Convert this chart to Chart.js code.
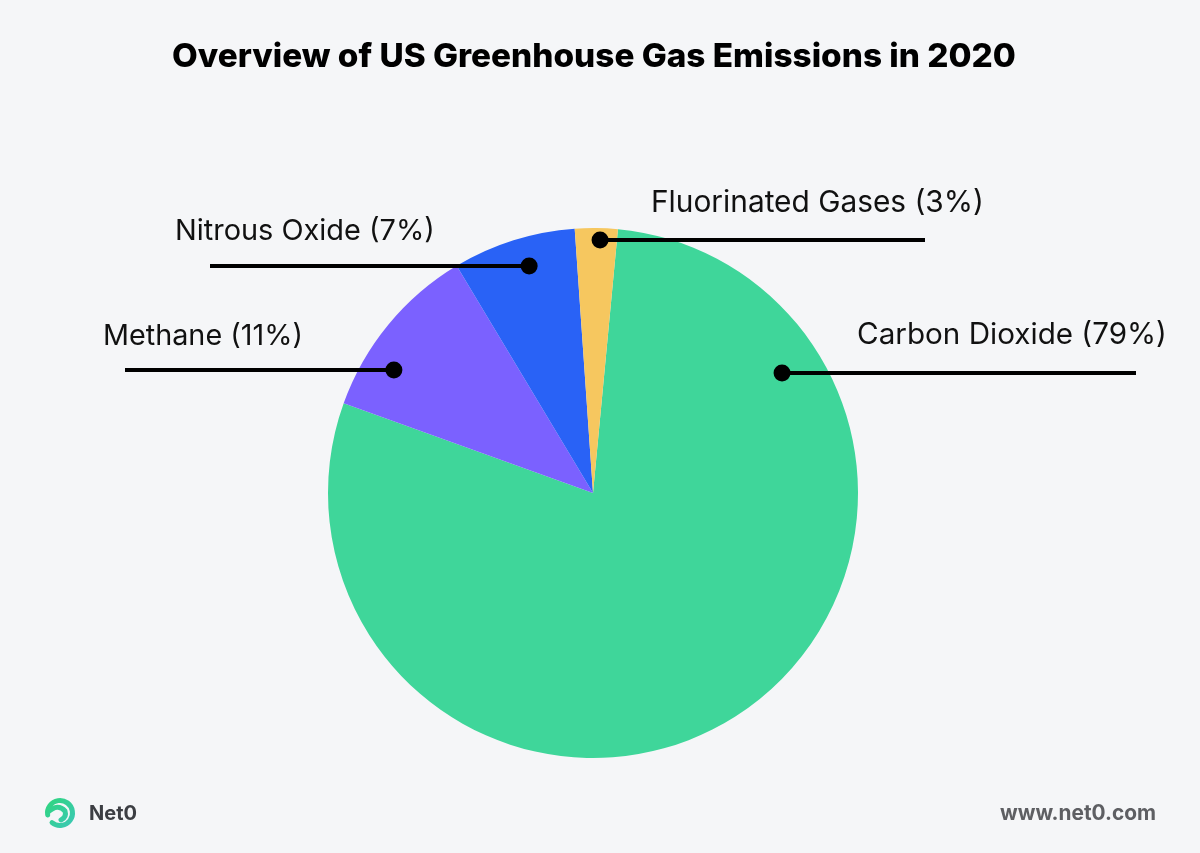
<!DOCTYPE html>
<html>
<head>
<meta charset="utf-8">
<script src="https://cdn.jsdelivr.net/npm/chart.js@4.4.1/dist/chart.umd.min.js"></script>
<style>
  html, body { margin: 0; padding: 0; background: #F5F6F8; }
  #wrap { width: 1200px; height: 853px; position: relative; }
</style>
</head>
<body>
<div id="wrap"><canvas id="c" width="1200" height="853"></canvas></div>
<script>
// ---- data ----
const categories = ["Carbon Dioxide", "Methane", "Nitrous Oxide", "Fluorinated Gases"];
const sliceValues = [79, 10.9, 7.5, 2.6];
// percentages printed in the labels
const labelPercents = [79, 11, 7, 3];
const sliceColors = ["#3FD69A", "#7B61FF", "#2962F6", "#F6C75F"];
const chartTitle = "Overview of US Greenhouse Gas Emissions in 2020";
const brandName = "Net0";
const siteUrl = "www.net0.com";

// leader-line styling per slice (position along arc, radial fraction, line end, label placement)
const leaderStyle = [
  { t: 0.1835, rf: 0.845, lineEndX: 1136, labelX: 857, labelBaseline: 344, labelWidth: 310 },
  { t: 0.303,  rf: 0.883, lineEndX: 125,  labelX: 103, labelBaseline: 345, labelWidth: 200 },
  { t: 0.565,  rf: 0.89,  lineEndX: 210,  labelX: 175, labelBaseline: 240, labelWidth: 260 },
  { t: 0.594,  rf: 0.955, lineEndX: 925,  labelX: 651, labelBaseline: 212, labelWidth: 333 }
];

const FONT = '"Inter", "Open Sans", sans-serif';

function fitFont(ctx, text, weight, baseSize, targetW) {
  ctx.font = weight + ' ' + baseSize + 'px ' + FONT;
  const w = ctx.measureText(text).width;
  const size = baseSize * targetW / w;
  return weight + ' ' + size.toFixed(2) + 'px ' + FONT;
}

const overlay = {
  id: 'overlay',
  afterDraw(chart) {
    const ctx = chart.ctx;
    const meta = chart.getDatasetMeta(0);
    ctx.save();

    // Title
    ctx.fillStyle = '#000000';
    ctx.textAlign = 'left';
    ctx.textBaseline = 'alphabetic';
    ctx.font = fitFont(ctx, chartTitle, '800', 32, 844);
    ctx.fillText(chartTitle, 172, 67);

    // Leaders and labels
    meta.data.forEach((arc, i) => {
      const st = leaderStyle[i];
      const p = arc.getProps(['x', 'y', 'startAngle', 'endAngle', 'outerRadius'], true);
      const a = p.startAngle + st.t * (p.endAngle - p.startAngle);
      const r = st.rf * p.outerRadius;
      const dx = p.x + Math.cos(a) * r;
      const dy = p.y + Math.sin(a) * r;

      ctx.strokeStyle = '#000000';
      ctx.lineWidth = 4;
      ctx.lineCap = 'butt';
      ctx.beginPath();
      ctx.moveTo(dx, dy);
      ctx.lineTo(st.lineEndX, dy);
      ctx.stroke();

      ctx.fillStyle = '#000000';
      ctx.beginPath();
      ctx.arc(dx, dy, 8.5, 0, Math.PI * 2);
      ctx.fill();

      const text = categories[i] + ' (' + labelPercents[i] + '%)';
      ctx.font = fitFont(ctx, text, '400', 26, st.labelWidth);
      ctx.fillStyle = '#111111';
      ctx.textAlign = 'left';
      ctx.fillText(text, st.labelX, st.labelBaseline);
    });

    // Footer logo
    const lx = 60, ly = 813;
    const grad = ctx.createLinearGradient(lx - 15, ly - 15, lx + 15, ly + 15);
    grad.addColorStop(0, '#2FD67C');
    grad.addColorStop(1, '#3CC7B8');
    ctx.strokeStyle = grad;
    ctx.lineWidth = 5;
    ctx.lineCap = 'round';
    ctx.beginPath();
    ctx.arc(lx, ly, 12.5, Math.PI * 0.95, Math.PI * 0.72 + Math.PI * 2, false);
    ctx.stroke();
    ctx.beginPath();
    ctx.moveTo(lx - 12, ly - 1);
    ctx.quadraticCurveTo(lx - 2, ly - 10, lx + 5, ly - 2);
    ctx.quadraticCurveTo(lx + 7, ly + 4, lx + 1, ly + 7);
    ctx.stroke();

    ctx.fillStyle = '#3C3E43';
    ctx.textAlign = 'left';
    ctx.font = fitFont(ctx, brandName, '700', 20, 48);
    ctx.fillText(brandName, 89, 820);

    ctx.fillStyle = '#5E5F63';
    ctx.textAlign = 'left';
    ctx.font = fitFont(ctx, siteUrl, '700', 20, 156);
    ctx.fillText(siteUrl, 1000, 820);

    ctx.restore();
  }
};

new Chart(document.getElementById('c'), {
  type: 'pie',
  data: {
    labels: categories,
    datasets: [{
      data: sliceValues,
      backgroundColor: sliceColors,
      borderWidth: 0,
      hoverOffset: 0
    }]
  },
  options: {
    responsive: false,
    devicePixelRatio: 1,
    animation: false,
    rotation: 5.4,
    layout: { padding: { left: 328, right: 342, top: 228, bottom: 95 } },
    plugins: {
      legend: { display: false },
      title: { display: false },
      tooltip: { enabled: false }
    }
  },
  plugins: [overlay]
});
</script>
</body>
</html>
